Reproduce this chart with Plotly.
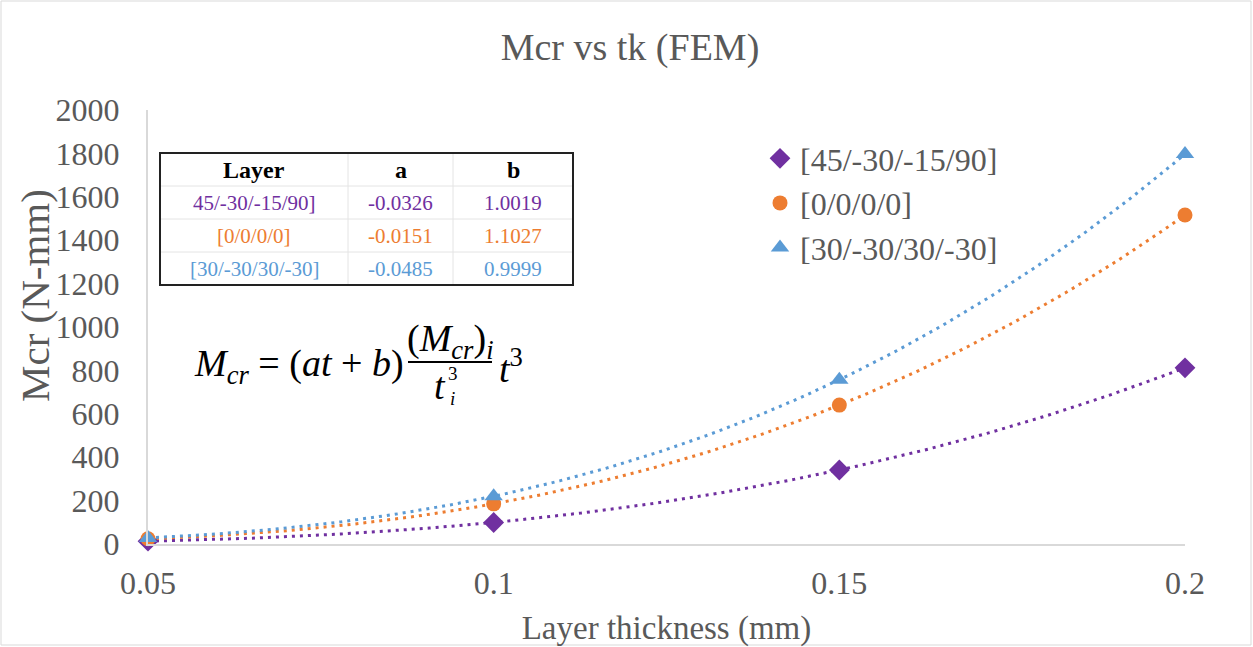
import numpy as np
import plotly.graph_objects as go

# ---------------- data ----------------
thickness = [0.05, 0.1, 0.15, 0.2]
series_names = ["[45/-30/-15/90]", "[0/0/0/0]", "[30/-30/30/-30]"]
mcr_45 = [13, 99, 341, 812]
mcr_0 = [24, 185, 640, 1516]
mcr_30 = [28, 220, 757, 1797]
x_ticks = [0.05, 0.1, 0.15, 0.2]
x_tick_labels = ["0.05", "0.1", "0.15", "0.2"]
y_ticks = list(range(0, 2001, 200))

table_header = ["Layer", "a", "b"]
table_layers = ["45/-30/-15/90]", "[0/0/0/0]", "[30/-30/30/-30]"]
table_a = ["-0.0326", "-0.0151", "-0.0485"]
table_b = ["1.0019", "1.1027", "0.9999"]

colors = ["#7030A0", "#ED7D31", "#5B9BD5"]
symbols = ["diamond", "circle", "triangle-up"]

# ---------------- layout geometry ----------------
W, H = 1253, 647
L, R, T, B = 148, 1185, 110, 544


def px(x):
    return (x - L) / (R - L)


def py(y):
    return (B - y) / (B - T)


FONT = "Liberation Serif"
GRAY = "#595959"

fig = go.Figure()

# trendlines (cubic polynomial fit, like Excel trendline)
tt = np.linspace(thickness[0], thickness[-1], 200)
for vals, c in zip([mcr_45, mcr_0, mcr_30], colors):
    coef = np.polyfit(thickness, vals, 3)
    fig.add_trace(go.Scatter(x=tt, y=np.polyval(coef, tt), mode="lines",
                             line=dict(color=c, width=3, dash="3px,5px"),
                             showlegend=False, hoverinfo="skip"))

for name, vals, c, s in zip(series_names, [mcr_45, mcr_0, mcr_30], colors, symbols):
    fig.add_trace(go.Scatter(x=thickness, y=vals, mode="markers", name=name,
                             marker=dict(color=c, symbol=s, size=16 if s != "circle" else 15)))

shapes = []
annotations = []


def note(x, y, text, font, xanchor="center", angle=0):
    annotations.append(dict(x=px(x), y=py(y), xref="paper", yref="paper",
                            xanchor=xanchor, yanchor="middle", text=text,
                            showarrow=False, font=font, textangle=angle))


# outer chart border
shapes.append(dict(type="rect", xref="paper", yref="paper",
                   x0=px(1), x1=px(W - 2), y0=py(H - 2), y1=py(1),
                   line=dict(color="#d9d9d9", width=1)))

# y-axis title (Excel places it slightly above the plot centre)
note(35, 296, "Mcr (N-mm)", dict(family=FONT, size=41, color=GRAY), angle=-90)

# table
tx = [160, 348, 453, 573]
ty = [153, 186, 219, 252, 285]
for x in tx[1:-1]:
    shapes.append(dict(type="line", xref="paper", yref="paper",
                       x0=px(x), x1=px(x), y0=py(ty[0]), y1=py(ty[-1]),
                       line=dict(color="#e4e4e4", width=1)))
for y in ty[1:-1]:
    shapes.append(dict(type="line", xref="paper", yref="paper",
                       x0=px(tx[0]), x1=px(tx[-1]), y0=py(y), y1=py(y),
                       line=dict(color="#e4e4e4", width=1)))
shapes.append(dict(type="rect", xref="paper", yref="paper",
                   x0=px(tx[0]), x1=px(tx[-1]), y0=py(ty[-1]), y1=py(ty[0]),
                   line=dict(color="#222222", width=2)))

cx = [(tx[i] + tx[i + 1]) / 2 for i in range(3)]
cy = [(ty[i] + ty[i + 1]) / 2 for i in range(4)]
for j, h in enumerate(table_header):
    note(cx[j], cy[0], "<b>%s</b>" % h, dict(family=FONT, size=24, color="black"))
for i in range(3):
    for j, txt in enumerate([table_layers[i], table_a[i], table_b[i]]):
        note(cx[j], cy[i + 1], txt, dict(family=FONT, size=21, color=colors[i]))

# equation
EQF = dict(family=FONT, size=38, color="black")
SMF = dict(family=FONT, size=19, color="black")
note(192, 366, "<i>M</i><sub><i>cr</i></sub> = (<i>at</i> + <i>b</i>)", EQF, "left")
note(450, 341, "(<i>M</i><sub><i>cr</i></sub>)<sub><i>i</i></sub>", EQF)
shapes.append(dict(type="line", xref="paper", yref="paper",
                   x0=px(408), x1=px(492), y0=py(362), y1=py(362),
                   line=dict(color="black", width=2)))
note(440, 386, "<i>t</i>", EQF)
note(446, 386, "3<br><i>i</i>", SMF, "left")
note(497, 366, "<i>t</i><sup>3</sup>", EQF, "left")

fig.update_layout(
    width=W, height=H,
    margin=dict(l=L, r=W - R, t=T, b=H - B),
    paper_bgcolor="white", plot_bgcolor="white",
    title=dict(text="Mcr vs tk (FEM)", x=630 / W,
               xanchor="center", y=1 - 47 / H, yanchor="middle",
               font=dict(family=FONT, size=38, color=GRAY)),
    xaxis=dict(range=[0.05, 0.2], tickvals=x_ticks, ticktext=x_tick_labels, automargin=False,
               showgrid=False, zeroline=False, showline=True, linecolor="#d9d9d9", linewidth=2,
               ticks="", tickfont=dict(family=FONT, size=32, color=GRAY), ticklabelstandoff=10,
               title=dict(text="Layer thickness (mm)", font=dict(family=FONT, size=33, color=GRAY),
                          standoff=15)),
    yaxis=dict(range=[0, 2000], tickvals=y_ticks, automargin=False,
               showgrid=False, zeroline=False, showline=True, linecolor="#d9d9d9", linewidth=2,
               ticks="", tickfont=dict(family=FONT, size=32, color=GRAY), ticklabelstandoff=20),
    legend=dict(x=px(760), y=py(131), xanchor="left", yanchor="top",
                font=dict(family=FONT, size=32, color=GRAY), bgcolor="rgba(0,0,0,0)",
                tracegroupgap=0, itemwidth=30),
    shapes=shapes, annotations=annotations,
)
for tr in fig.data:
    tr.cliponaxis = False

fig.write_html("out.html")
